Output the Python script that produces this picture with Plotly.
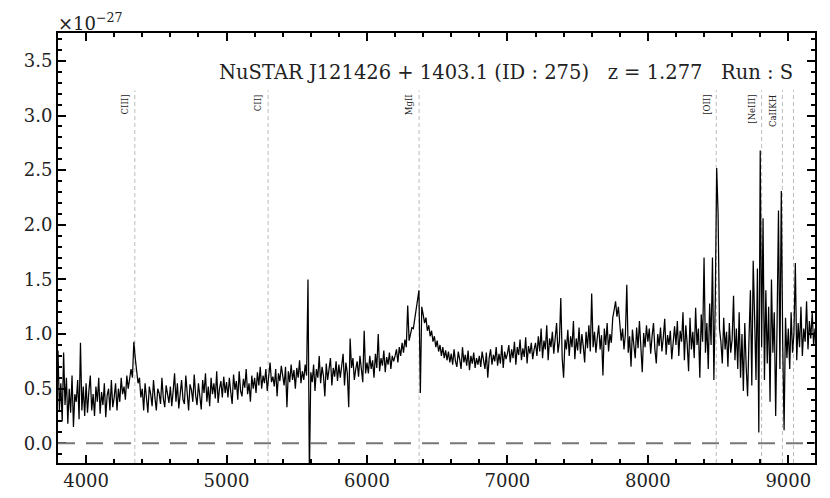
import numpy as np
import plotly.graph_objects as go

# Wavelength grid (Angstrom), 10 A sampling from 3800 to 9190
wave_start = 3800
wave_step = 10

# Flux (units of 1e-27), one row per 200 A
flux = [
    # 3800-3990
    0.85, 0.30, 0.55, 0.20, 0.83, 0.35, 0.60, 0.18, 0.50, 0.28, 0.62, 0.15, 0.45, 0.38, 0.58, 0.22, 0.92, 0.30, 0.52, 0.25,
    # 4000-4190
    0.55, 0.28, 0.48, 0.62, 0.30, 0.45, 0.25, 0.52, 0.38, 0.60, 0.27, 0.47, 0.35, 0.55, 0.24, 0.44, 0.50, 0.30, 0.58, 0.33,
    # 4200-4390 (CIII])
    0.42, 0.55, 0.30, 0.50, 0.38, 0.60, 0.45, 0.52, 0.40, 0.62, 0.50, 0.58, 0.68, 0.60, 0.93, 0.78, 0.65, 0.55, 0.60, 0.42,
    # 4400-4590
    0.50, 0.30, 0.55, 0.40, 0.28, 0.52, 0.45, 0.34, 0.58, 0.42, 0.30, 0.50, 0.46, 0.36, 0.60, 0.41, 0.33, 0.53, 0.44, 0.37,
    # 4600-4790
    0.52, 0.34, 0.48, 0.64, 0.38, 0.55, 0.32, 0.47, 0.58, 0.40, 0.36, 0.62, 0.45, 0.30, 0.54, 0.49, 0.38, 0.63, 0.44, 0.35,
    # 4800-4990
    0.55, 0.40, 0.31, 0.58, 0.46, 0.64, 0.38, 0.52, 0.34, 0.60, 0.45, 0.55, 0.41, 0.66, 0.37, 0.50, 0.57, 0.42, 0.61, 0.46,
    # 5000-5190
    0.56, 0.42, 0.60, 0.47, 0.36, 0.63, 0.49, 0.57, 0.40, 0.66, 0.48, 0.43, 0.59, 0.51, 0.68, 0.45, 0.55, 0.38, 0.62, 0.50,
    # 5200-5390
    0.60, 0.46, 0.65, 0.53, 0.70, 0.50, 0.62, 0.55, 0.68, 0.48, 0.63, 0.74, 0.56, 0.61, 0.52, 0.68, 0.43, 0.64, 0.57, 0.71,
    # 5400-5590 (sky line 5577)
    0.62, 0.53, 0.70, 0.33, 0.66, 0.56, 0.72, 0.58, 0.67, 0.50, 0.69, 0.60, 0.76, 0.55, 0.66, 0.58, 0.72, 0.62, 1.50, -0.30,
    # 5600-5790
    0.65, 0.56, 0.72, 0.48, 0.68, 0.60, 0.80, 0.55, 0.70, 0.62, 0.43, 0.73, 0.58, 0.67, 0.78, 0.53, 0.69, 0.61, 0.75, 0.57,
    # 5800-5990
    0.72, 0.60, 0.70, 0.82, 0.53, 0.74, 0.64, 0.33, 0.96, 0.69, 0.78, 0.58, 0.68, 0.75, 0.61, 0.80, 0.68, 0.56, 1.03, 0.64,
    # 6000-6190
    0.74, 0.64, 0.80, 0.68, 0.76, 0.60, 0.82, 0.69, 1.00, 0.66, 0.78, 0.71, 0.85, 0.65, 0.79, 0.72, 0.83, 0.68, 0.80, 0.75,
    # 6200-6390 (MgII)
    0.80, 0.86, 0.74, 0.88, 0.80, 0.92, 0.83, 0.95, 0.88, 1.26, 0.94, 1.02, 1.06, 1.05, 1.15, 1.20, 1.30, 1.40, 0.46, 1.25,
    # 6400-6590
    1.18, 1.10, 1.15, 1.03, 1.08, 0.98, 1.03, 0.93, 0.98, 0.88, 0.94, 0.84, 0.90, 0.80, 0.88, 0.78, 0.85, 0.76, 0.84, 0.74,
    # 6600-6790
    0.82, 0.72, 0.86, 0.75, 0.70, 0.84, 0.77, 0.68, 0.88, 0.74, 0.81, 0.71, 0.85, 0.67, 0.80, 0.73, 0.83, 0.69, 0.78, 0.72,
    # 6800-6990
    0.80, 0.70, 0.84, 0.74, 0.68, 0.83, 0.60, 0.78, 0.86, 0.72, 0.81, 0.75, 0.88, 0.71, 0.82, 0.73, 0.90, 0.69, 0.84, 0.77,
    # 7000-7190
    0.82, 0.90, 0.74, 0.86, 0.78, 0.93, 0.72, 0.88, 0.81, 0.95, 0.76, 0.87, 0.79, 0.97, 0.73, 0.89, 0.82, 0.92, 0.77, 0.86,
    # 7200-7390
    0.92, 0.80, 0.98, 0.84, 1.05, 0.78, 0.94, 0.86, 1.08, 0.76, 0.96, 0.88, 1.02, 0.82, 0.97, 1.10, 0.83, 0.93, 1.33, 0.78,
    # 7400-7590
    0.60, 0.95, 0.86, 1.04, 0.80, 0.98, 0.88, 1.12, 0.77, 0.96, 0.85, 1.06, 0.82, 1.00, 0.89, 0.74, 1.02, 0.87, 1.08, 0.84,
    # 7600-7790
    1.37, 0.88, 1.02, 0.83, 0.97, 1.08, 0.86, 0.99, 0.62, 1.05, 0.90, 1.10, 0.84, 1.00, 0.92, 1.15, 1.22, 1.30, 1.16, 1.25,
    # 7800-7990
    1.10, 0.94, 1.05, 0.86, 1.00, 1.45, 0.83, 0.98, 0.70, 1.04, 0.90, 0.78, 1.06, 0.87, 1.12, 0.92, 0.65, 1.01, 0.88, 1.08,
    # 8000-8190
    0.93, 1.05, 0.82, 0.98, 1.10, 0.86, 0.73, 1.00, 0.89, 1.06, 0.84, 0.97, 1.14, 0.81, 0.99, 0.90, 1.03, 0.77, 0.96, 1.07,
    # 8200-8390
    0.90, 1.12, 0.80, 1.03, 0.93, 1.20, 0.76, 1.08, 0.91, 0.66, 1.15, 0.86, 1.02, 0.78, 1.24, 0.90, 1.05, 0.60, 1.18, 0.93,
    # 8400-8590 ([OII])
    1.70, 0.83, 1.10, 0.68, 1.28, 0.90, 1.70, 0.58, 1.30, 2.52, 2.10, 1.05, 0.93, 0.73, 1.15, 0.86, 1.02, 0.70, 1.10, 0.83,
    # 8600-8790
    0.95, 1.35, 0.76, 1.05, 0.68, 1.20, 0.60, 1.00, 0.48, 1.10, 0.70, 0.43, 0.95, 1.40, 0.53, 1.67, 1.15, 0.58, 1.60, 0.10,
    # 8800-8990 ([NeIII], CaII K,H)
    2.68, 0.88, 2.06, 0.58, 1.40, 0.73, 1.25, 0.38, 1.50, 0.83, 1.20, 0.25, 1.10, 2.13, 0.68, 2.31, 0.93, 0.12, 1.15, 0.78,
    # 9000-9190
    1.05, 0.68, 1.20, 0.83, 1.00, 1.65, 0.76, 1.10, 0.88, 1.25, 0.80, 1.05, 0.93, 1.30, 0.86, 1.12, 0.96, 1.20, 0.90, 1.05,
]
wave = wave_start + wave_step * np.arange(len(flux))

# Emission / absorption line markers (observed wavelengths)
line_names = ["CIII]", "CII]", "MgII", "[OII]", "[NeIII]", "CaIIKH", ""]
line_waves = [4347, 5296, 6371, 8487, 8810, 8958, 9037]

title_text = "NuSTAR J121426 + 1403.1 (ID : 275)   z = 1.277   Run : S"

x_range = [3800, 9190]
y_range = [-0.18, 3.755]

serif = "DejaVu Serif"

fig = go.Figure()
fig.add_trace(go.Scatter(
    x=wave, y=flux, mode="lines",
    line=dict(color="black", width=1.25),
    hoverinfo="skip", showlegend=False,
))

shapes = []
annotations = []
for name, lw in zip(line_names, line_waves):
    shapes.append(dict(type="line", xref="x", yref="y", x0=lw, x1=lw,
                       y0=y_range[0], y1=3.23,
                       line=dict(color="#bbbbbb", width=1, dash="4px,3px"),
                       layer="below"))
    if name:
        annotations.append(dict(x=lw, y=3.21, xref="x", yref="y", text=name,
                                textangle=-90, showarrow=False,
                                xanchor="right", yanchor="top", xshift=-3,
                                font=dict(family=serif, size=8.5, color="#222")))

shapes.append(dict(type="line", xref="paper", yref="y", x0=0, x1=1, y0=0, y1=0,
                   line=dict(color="#777777", width=2, dash="17px,11px")))

annotations.append(dict(x=0.974, y=0.909, xref="paper", yref="paper",
                        text=title_text, showarrow=False,
                        xanchor="right", yanchor="middle",
                        font=dict(family=serif, size=19.5, color="#222")))
annotations.append(dict(x=0, y=1, xref="paper", yref="paper",
                        text="×10<sup>−27</sup>", showarrow=False,
                        xanchor="left", yanchor="bottom", xshift=-2, yshift=-3,
                        font=dict(family=serif, size=18, color="#222")))

axis_common = dict(showgrid=False, zeroline=False, showline=True, linecolor="black",
                   linewidth=2, mirror="allticks", ticks="inside", tickcolor="black",
                   ticklen=8, tickwidth=2, automargin=False,
                   tickfont=dict(family=serif, size=18, color="#222"))

fig.update_xaxes(range=x_range, tick0=4000, dtick=1000,
                 minor=dict(ticks="inside", dtick=200, tick0=4000, ticklen=4, tickwidth=1.5, tickcolor="black"),
                 **axis_common)
fig.update_yaxes(range=y_range, tick0=0, dtick=0.5, tickformat=".1f",
                 minor=dict(ticks="inside", dtick=0.1, tick0=0, ticklen=4, tickwidth=1.5, tickcolor="black"),
                 **axis_common)

# The page places the figure 8 px in from the top-left corner,
# so the figure is sized and margined to land on the reference plot area.
fig.update_layout(
    width=822, height=490,
    margin=dict(l=50, r=15, t=25, b=35),
    plot_bgcolor="white", paper_bgcolor="white",
    shapes=shapes, annotations=annotations,
    showlegend=False,
)

fig.write_html("out.html")
